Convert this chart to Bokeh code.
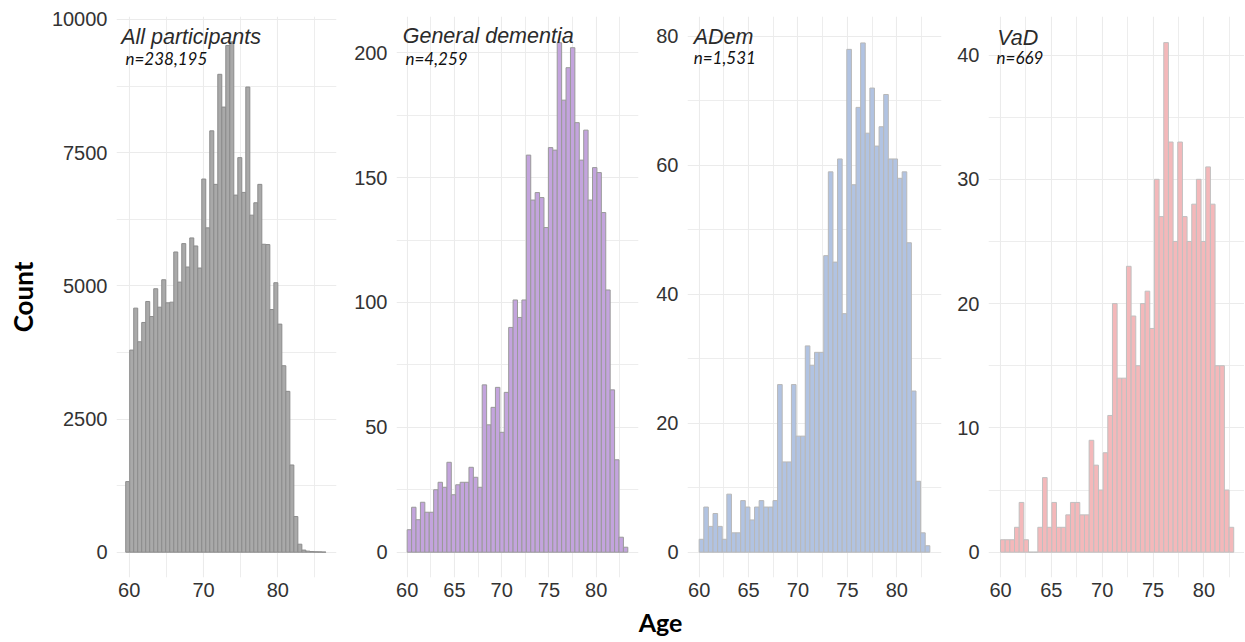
import numpy as np
from bokeh.plotting import figure
from bokeh.models import Range1d, FixedTicker, Label, ColumnDataSource
from bokeh.layouts import row, column
from bokeh.embed import file_html
from bokeh.resources import INLINE
from bokeh.core.properties import value

# ---------------- data (histogram counts) ----------------
all_counts = [1325, 3794, 4581, 3950, 4312, 4706, 4423, 4945, 4599, 5114,
              4681, 4693, 5635, 5070, 5792, 5353, 5899, 5748, 5334, 7004,
              6088, 7909, 6904, 8970, 8355, 9510, 9579, 6703, 7406, 6753,
              8731, 6326, 6559, 6904, 5780, 5774, 4555, 5058, 4281, 3500,
              3019, 1637, 669, 150, 40, 20, 12, 8, 6, 3]
all_bin_start = 59.53
all_bin_width = 0.5388

gen_counts = [9, 18, 13, 20, 16, 16, 25, 28, 26, 36,
              23, 27, 28, 28, 34, 30, 26, 67, 51, 58,
              66, 48, 64, 90, 101, 94, 101, 159, 141, 144,
              142, 130, 162, 161, 204, 181, 194, 202, 172, 157,
              169, 141, 154, 152, 136, 105, 65, 37, 6, 2]
gen_bin_start = 60.0
gen_bin_width = 0.467

adem_counts = [2, 7, 4, 6, 4, 2, 9, 3, 3, 8,
               7, 5, 7, 8, 7, 7, 8, 26, 14, 14,
               26, 18, 18, 32, 29, 31, 31, 46, 59, 45,
               61, 37, 78, 57, 69, 79, 65, 72, 63, 66,
               71, 61, 61, 58, 59, 48, 25, 11, 3, 1]
adem_bin_start = 60.0
adem_bin_width = 0.4668

vad_counts = [1, 1, 1, 2, 4, 1, 0, 0, 2, 6,
              2, 4, 2, 2, 3, 4, 4, 3, 3, 9,
              7, 5, 8, 11, 20, 14, 14, 23, 19, 15,
              20, 21, 18, 30, 27, 41, 33, 25, 33, 27,
              25, 28, 30, 25, 31, 28, 15, 15, 5, 2]
vad_bin_start = 60.0
vad_bin_width = 0.4586

titles = ["All participants", "General dementia", "ADem", "VaD"]
n_labels = ["n=238,195", "n=4,259", "n=1,531", "n=669"]

x_ticks_all = [60, 70, 80]
x_minor_all = [65, 75, 85]
x_ticks_dem = [60, 65, 70, 75, 80]
x_minor_dem = [62.5, 67.5, 72.5, 77.5, 82.5]

y_ticks_all = [0, 2500, 5000, 7500, 10000]
y_minor_all = [1250, 3750, 6250, 8750]
y_ticks_gen = [0, 50, 100, 150, 200]
y_minor_gen = [25, 75, 125, 175]
y_ticks_adem = [0, 20, 40, 60, 80]
y_minor_adem = [10, 30, 50, 70]
y_ticks_vad = [0, 10, 20, 30, 40]
y_minor_vad = [5, 15, 25, 35]

GRID = "#EBEBEB"
TICK_COLOR = "#333333"
FRAME_H = 561
TOP = 16
BOTTOM = 29


def panel(counts, start, width, fill, line, xr, yr, xt, xm, yt, ym,
          frame_w, b_left, b_right, title, ntext, tpos, npos, ylabel=None):
    edges = start + width * np.arange(len(counts) + 1)
    src = ColumnDataSource(dict(left=edges[:-1], right=edges[1:],
                                top=counts, bottom=[0] * len(counts)))
    p = figure(frame_width=frame_w, frame_height=FRAME_H,
               x_range=Range1d(*xr), y_range=Range1d(*yr),
               output_backend="svg", toolbar_location=None,
               min_border_left=b_left, min_border_right=b_right,
               min_border_top=TOP, min_border_bottom=BOTTOM)
    p.outline_line_color = None
    p.background_fill_color = "white"
    p.border_fill_color = "white"
    p.quad(left="left", right="right", top="top", bottom="bottom",
           source=src, fill_color=fill, line_color=line, line_width=1)

    p.xaxis.ticker = FixedTicker(ticks=xt, minor_ticks=xm)
    p.yaxis.ticker = FixedTicker(ticks=yt, minor_ticks=ym)
    for ax in (p.xaxis[0], p.yaxis[0]):
        ax.axis_line_color = None
        ax.major_tick_line_color = None
        ax.minor_tick_line_color = None
        ax.major_tick_out = 0
        ax.major_tick_in = 0
        ax.minor_tick_out = 0
        ax.minor_tick_in = 0
        ax.major_label_text_font = "Liberation Sans"
        ax.major_label_text_font_size = "20px"
        ax.major_label_text_color = TICK_COLOR
    p.xaxis.major_label_standoff = 5
    p.yaxis.major_label_standoff = 9
    for g in (p.xgrid[0], p.ygrid[0]):
        g.grid_line_color = GRID
        g.grid_line_width = 1.1
        g.minor_grid_line_color = GRID
        g.minor_grid_line_width = 0.9

    if ylabel:
        p.yaxis.axis_label = ylabel
        p.yaxis.axis_label_text_font = "Lato"
        p.yaxis.axis_label_text_font_style = "bold"
        p.yaxis.axis_label_text_font_size = "26px"
        p.yaxis.axis_label_text_color = "black"
        p.yaxis.axis_label_standoff = 10

    p.add_layout(Label(x=tpos[0], y=tpos[1], text=title,
                       text_font="Liberation Sans", text_font_style="italic",
                       text_font_size="21.5px", text_color="#2b2b2b",
                       text_baseline="alphabetic"))
    p.add_layout(Label(x=npos[0], y=npos[1], text=ntext,
                       text_font="Lato", text_font_style="italic",
                       text_font_size="17px", text_color="#111111",
                       text_baseline="alphabetic"))
    return p


p1 = panel(all_counts, all_bin_start, all_bin_width, "#A9A9A9", "#8C8C8C",
           (58.29, 87.9), (-475, 10055), x_ticks_all, x_minor_all,
           y_ticks_all, y_minor_all, 220, 116, 10,
           titles[0], n_labels[0], (58.92, 9667), (59.50, 9267), ylabel="Count")
p2 = panel(gen_counts, gen_bin_start, gen_bin_width, "#C3A4DD", "#9A9A9A",
           (58.87, 84.48), (-10.13, 214.5), x_ticks_dem, x_minor_dem,
           y_ticks_gen, y_minor_gen, 242, 50, 4,
           titles[1], n_labels[1], (59.53, 206.5), (59.82, 197.6))
p3 = panel(adem_counts, adem_bin_start, adem_bin_width, "#B1C3E2", "#B8B8B8",
           (58.82, 84.52), (-3.93, 83.1), x_ticks_dem, x_minor_dem,
           y_ticks_adem, y_minor_adem, 254, 45, 2,
           titles[2], n_labels[2], (59.45, 79.9), (59.45, 76.8))
p4 = panel(vad_counts, vad_bin_start, vad_bin_width, "#F4B8BA", "#C0C0C0",
           (58.82, 83.99), (-2.04, 43.1), x_ticks_dem, x_minor_dem,
           y_ticks_vad, y_minor_vad, 256, 45, 0,
           titles[3], n_labels[3], (59.68, 41.4), (59.61, 39.8))

# strip holding the shared x-axis title
STRIP_H = 35
strip = figure(width=1244, height=STRIP_H, x_range=Range1d(0, 1244),
               y_range=Range1d(0, STRIP_H),
               output_backend="svg", toolbar_location=None,
               min_border=0, min_border_left=0, min_border_right=0,
               min_border_top=0, min_border_bottom=0)
strip.axis.visible = False
strip.grid.visible = False
strip.outline_line_color = None
strip.text(x=[660], y=[STRIP_H - 15], text=["Age"], text_font=value("Lato"),
           text_font_style="bold", text_font_size="25px", text_color="black",
           text_align="center", text_baseline="middle")

layout = column(row(p1, p2, p3, p4, spacing=0), strip, spacing=0)

open("out.html", "w").write(file_html(layout, INLINE))
